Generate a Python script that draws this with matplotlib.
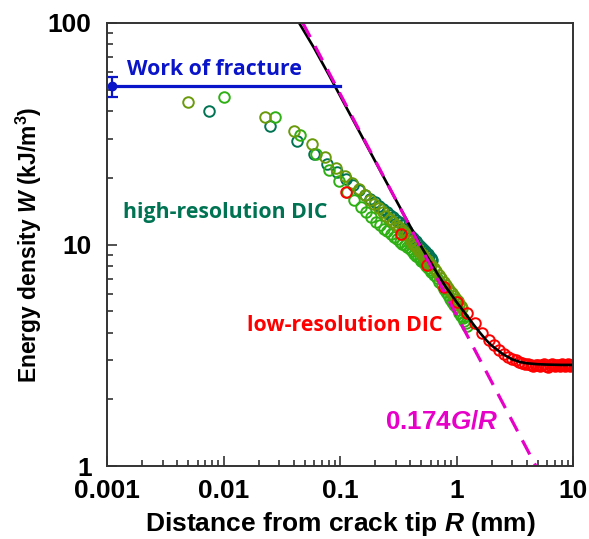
import matplotlib
matplotlib.use('Agg')
import matplotlib.pyplot as plt
from matplotlib.ticker import NullFormatter, LogLocator

# ---- data (R in mm, W in kJ/m^3) ----
teal_R = [0.0075, 0.025, 0.0425, 0.06, 0.078, 0.094, 0.112, 0.13, 0.147, 0.165,
          0.182, 0.2, 0.217, 0.235, 0.252, 0.27, 0.287, 0.305, 0.322, 0.34,
          0.357, 0.375, 0.392, 0.41, 0.427, 0.445, 0.462, 0.48, 0.497, 0.515,
          0.532, 0.55, 0.567, 0.585, 0.602, 0.62]
teal_W = [40.1, 34.2, 29.3, 25.5, 23.0, 21.2, 19.7, 18.5, 17.6, 16.7,
          16.1, 15.5, 14.9, 14.5, 14.0, 13.6, 13.3, 12.9, 12.6, 12.2,
          11.8, 11.5, 11.2, 10.9, 10.7, 10.4, 10.2, 9.96, 9.75, 9.56,
          9.38, 9.2, 9.03, 8.87, 8.72, 8.55]

green_R = [0.01, 0.0275, 0.045, 0.0625, 0.08, 0.0975, 0.115, 0.1325, 0.15, 0.1675,
           0.185, 0.2025, 0.22, 0.2375, 0.255, 0.2725, 0.29, 0.3075, 0.325, 0.3425,
           0.36, 0.3775, 0.395, 0.4125, 0.43, 0.4475, 0.465, 0.4825, 0.5, 0.5175,
           0.535, 0.5525, 0.57, 0.5875, 0.605, 0.64, 0.675, 0.71, 0.745, 0.78,
           0.815, 0.85, 0.885, 0.92, 0.955, 0.99, 1.025, 1.06, 1.095, 1.13,
           1.165, 1.2, 1.235]
green_W = [46.3, 37.5, 31.3, 25.5, 21.8, 19.3, 17.3, 15.9, 14.8, 14.0,
           13.3, 12.7, 12.2, 11.8, 11.45, 11.1, 10.8, 10.55, 10.3, 10.1,
           9.9, 9.7, 9.5, 9.3, 9.1, 8.9, 8.75, 8.6, 8.45, 8.3,
           8.15, 8.0, 7.85, 7.7, 7.55, 7.3, 7.05, 6.8, 6.55, 6.3,
           6.1, 5.9, 5.7, 5.5, 5.35, 5.2, 5.05, 4.9, 4.78, 4.65,
           4.53, 4.42, 4.3]

olive_R = [0.005, 0.0225, 0.04, 0.0575, 0.075, 0.0925, 0.11, 0.1275, 0.145, 0.1625,
           0.18, 0.1975, 0.215, 0.2325, 0.25, 0.2675, 0.285, 0.3025, 0.32, 0.3375,
           0.355, 0.3725, 0.39, 0.4075, 0.425, 0.4425, 0.46, 0.4775, 0.495, 0.5125,
           0.53, 0.5475, 0.565, 0.5825, 0.6, 0.635, 0.67, 0.705, 0.74, 0.775,
           0.81, 0.845, 0.88, 0.915, 0.95, 0.985, 1.02, 1.055, 1.09, 1.125]
olive_W = [43.8, 37.8, 32.5, 28.3, 24.9, 22.1, 20.4, 18.9, 17.8, 16.8,
           15.9, 15.2, 14.6, 14.0, 13.5, 13.1, 12.7, 12.3, 12.0, 11.6,
           11.35, 11.1, 10.8, 10.35, 10.1, 9.8, 9.6, 9.36, 9.16, 8.96,
           8.77, 8.6, 8.42, 8.27, 8.12, 7.84, 7.6, 7.3, 7.04, 6.8,
           6.59, 6.38, 6.19, 6.01, 5.84, 5.69, 5.54, 5.4, 5.27, 5.15]

red_R = [0.113, 0.335, 0.557, 0.779, 1.001, 1.223, 1.445, 1.667, 1.889, 2.111,
         2.333, 2.555, 2.777, 2.999, 3.221, 3.443, 3.665, 3.887, 4.109, 4.331,
         4.553, 4.775, 4.997, 5.219, 5.441, 5.663, 5.885, 6.107, 6.329, 6.551,
         6.773, 6.995, 7.217, 7.439, 7.661, 7.883, 8.105, 8.327, 8.549, 8.771,
         8.993, 9.215, 9.437, 9.659, 9.881]
red_W = [17.2, 11.2, 8.07, 6.4, 5.5, 4.9, 4.4, 4.0, 3.72, 3.5,
         3.33, 3.2, 3.11, 3.05, 3.0, 2.96, 2.93, 2.9, 2.88, 2.86,
         2.84, 2.87, 2.85, 2.82, 2.86, 2.88, 2.84, 2.81, 2.85, 2.89,
         2.86, 2.83, 2.87, 2.85, 2.82, 2.86, 2.9, 2.87, 2.84, 2.86,
         2.88, 2.85, 2.83, 2.86, 2.87]

fit_R = [0.0446, 0.06, 0.08, 0.1, 0.15, 0.2, 0.3, 0.4, 0.5, 0.6,
         0.7, 0.8, 0.9, 1.0, 1.2, 1.4, 1.6, 1.8, 2.0, 2.5,
         3.0, 3.5, 4.0, 5.0, 6.0, 8.0, 10.0]
fit_W = [100, 77, 58.5, 47, 31.6, 23.8, 16.0, 12.1, 9.75, 8.3,
         7.25, 6.5, 5.95, 5.5, 4.85, 4.35, 3.98, 3.7, 3.5, 3.2,
         3.03, 2.95, 2.91, 2.88, 2.87, 2.86, 2.86]

# 0.174G/R asymptote
asym_R = [0.048, 4.8]
asym_W = [100, 1]

# work of fracture
wof_R = 0.0011
wof_W = 51.8
wof_err = 5.5
wof_line_R = [0.0011, 0.1]

blue = '#0A14C8'
teal = '#007352'
olive = '#6A9A0A'
green = '#2EB014'
red = '#FF0000'
magenta = '#E600C8'

plt.rcParams['font.family'] = 'Liberation Sans'
plt.rcParams['font.weight'] = 'bold'
plt.rcParams['axes.labelweight'] = 'bold'
plt.rcParams['mathtext.fontset'] = 'custom'
plt.rcParams['mathtext.rm'] = 'Liberation Sans:bold'
plt.rcParams['mathtext.it'] = 'Liberation Sans:italic:bold'
plt.rcParams['mathtext.bf'] = 'Liberation Sans:bold'

fig = plt.figure(figsize=(5.89, 5.39), dpi=100)
ax = fig.add_axes([107/589, 1 - 466/539, (573 - 107)/589, (466 - 23)/539])

mk = dict(marker='o', ls='none', mfc='none', ms=7.6, mew=1.4)
ax.plot(teal_R, teal_W, mec=teal, **mk)
ax.plot(green_R, green_W, mec=green, **mk)
ax.plot(olive_R, olive_W, mec=olive, **mk)
ax.plot(red_R, red_W, mec=red, **mk)

ax.plot(fit_R, fit_W, color='black', lw=1.9)
ax.plot(asym_R, asym_W, color=magenta, lw=2.3, dashes=(5, 3.2))

ax.plot(wof_line_R, [wof_W, wof_W], color=blue, lw=2.3)
ax.errorbar([wof_R], [wof_W], yerr=[wof_err], fmt='o', color=blue, ms=6,
            capsize=4, elinewidth=1.6, capthick=1.6)

ax.set_xscale('log')
ax.set_yscale('log')
ax.set_xlim(0.001, 10)
ax.set_ylim(1, 100)
ax.set_xticks([0.001, 0.01, 0.1, 1, 10], ['0.001', '0.01', '0.1', '1', '10'])
ax.set_yticks([1, 10, 100], ['1', '10', '100'])
ax.xaxis.set_minor_locator(LogLocator(base=10, subs=range(2, 10)))
ax.yaxis.set_minor_locator(LogLocator(base=10, subs=range(2, 10)))
ax.xaxis.set_minor_formatter(NullFormatter())
ax.yaxis.set_minor_formatter(NullFormatter())
ax.tick_params(which='both', direction='in', top=False, right=False,
               labelsize=19, width=1.2, color='#333333')
ax.tick_params(which='major', length=7)
ax.tick_params(axis='x', which='major', pad=9.5)
ax.tick_params(axis='y', which='major', pad=11)
ax.tick_params(which='minor', length=4)
for s in ax.spines.values():
    s.set_linewidth(1.4)
    s.set_color('#333333')

ax.set_xlabel(r'Distance from crack tip $R$ (mm)', fontsize=19, labelpad=5)
ax.set_ylabel(r'Energy density $W$ (kJ/m$^3$)', fontsize=16.5, labelpad=3)

ann = dict(family='Open Sans', weight='bold', fontsize=15.3, va='center', ha='left')
ax.text(0.00148, 61.4, 'Work of fracture', color=blue, **ann)
ax.text(0.00136, 13.9, 'high-resolution DIC', color=teal, **ann)
ax.text(0.0158, 4.33, 'low-resolution DIC', color=red, **ann)
ax.text(0.243, 1.585, r'0.174$G/R$', color=magenta, fontsize=18.8,
        va='center', ha='left')

fig.savefig('out.png', dpi=100)
